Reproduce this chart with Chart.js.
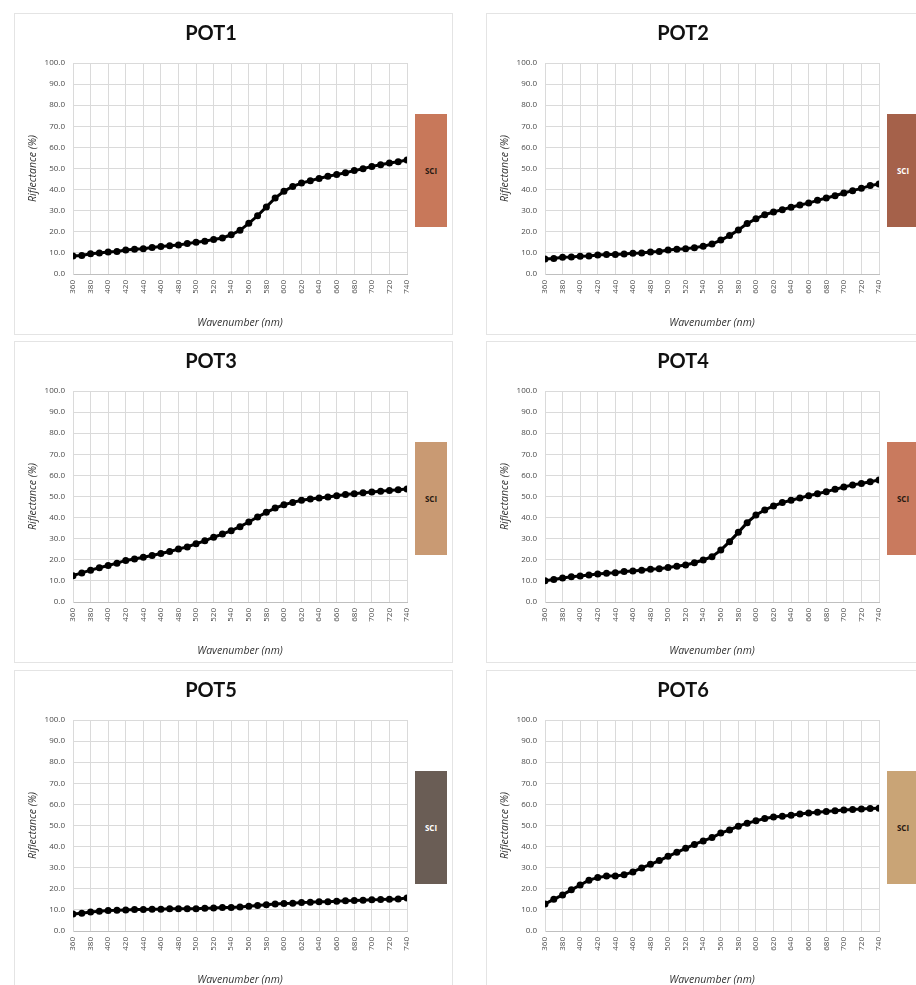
<!DOCTYPE html>
<html>
<head>
<meta charset="utf-8">
<script src="https://cdn.jsdelivr.net/npm/chart.js@4/dist/chart.umd.min.js"></script>
<style>
  html, body { margin: 0; padding: 0; background: #fff; }
  body { width: 916px; height: 985px; position: relative; overflow: hidden; }
  .panel { position: absolute; width: 439px; height: 322px; border: 1px solid #e4e4e4; box-sizing: border-box; background: #fff; }
  .panel canvas { position: absolute; left: 0; top: 0; }
  .swatch { position: absolute; width: 32px; height: 113px; display: flex; align-items: center; justify-content: center;
            font: bold 8px "Open Sans", "Liberation Sans", sans-serif; }
</style>
</head>
<body>
<script>
// Wavelengths sampled every 10 nm
const wavelengths = [360,370,380,390,400,410,420,430,440,450,460,470,480,490,500,510,520,530,540,550,
                     560,570,580,590,600,610,620,630,640,650,660,670,680,690,700,710,720,730,740];

// Reflectance (%) per sample
const pot1 = [8.5,8.8,9.6,10.0,10.4,10.7,11.4,11.7,12.0,12.6,13.0,13.4,13.7,14.4,15.0,15.5,16.4,17.1,18.6,20.7,
              24.0,27.6,31.8,36.0,39.2,41.5,43.1,44.2,45.3,46.3,47.1,48.0,49.0,49.9,51.0,51.8,52.6,53.2,54.0];
const pot2 = [7.1,7.4,7.9,8.1,8.4,8.5,9.0,9.2,9.3,9.5,9.8,10.0,10.4,10.7,11.4,11.7,12.0,12.5,13.1,14.2,
              16.1,18.2,20.9,23.9,26.2,28.1,29.4,30.5,31.6,32.7,33.6,34.9,36.0,37.1,38.4,39.5,40.6,41.9,42.7];
const pot3 = [12.5,13.8,15.1,16.2,17.3,18.4,19.7,20.4,21.2,22.0,23.0,23.9,25.1,26.1,27.6,29.0,30.7,32.2,33.8,35.7,
              37.9,40.3,42.5,44.5,46.1,47.2,48.2,48.8,49.3,49.8,50.4,50.9,51.3,51.8,52.1,52.5,52.9,53.2,53.6];
const pot4 = [10.1,10.7,11.4,12.0,12.3,12.8,13.3,13.6,13.9,14.4,14.7,15.0,15.5,15.8,16.4,16.9,17.5,18.6,19.9,21.5,
              24.6,28.6,33.0,37.6,41.2,43.6,45.5,47.1,48.2,49.3,50.4,51.3,52.3,53.4,54.5,55.5,56.2,57.0,57.8];
const pot5 = [8.1,8.4,9.0,9.4,9.7,9.8,10.0,10.2,10.2,10.3,10.3,10.5,10.5,10.5,10.6,10.8,10.9,11.1,11.1,11.4,
              11.7,12.1,12.4,12.8,13.0,13.1,13.5,13.6,13.9,13.9,14.1,14.3,14.4,14.6,14.8,14.9,15.1,15.2,15.6];
const pot6 = [12.8,15.0,17.1,19.5,21.8,24.1,25.3,26.1,26.1,26.6,28.0,29.9,31.6,33.4,35.4,37.3,39.2,41.0,42.7,44.3,
              46.4,47.9,49.7,51.1,52.2,53.3,54.0,54.4,54.9,55.4,55.9,56.3,56.6,57.0,57.3,57.6,57.8,58.1,58.2];

const titles = ["POT1","POT2","POT3","POT4","POT5","POT6"];
const seriesList = [pot1, pot2, pot3, pot4, pot5, pot6];
const swatchColors = ["#C8785A","#A5614A","#C99A73","#C97A5E","#6A5D55","#C9A476"];
const swatchText = ["#2a1a12","#ffffff","#2a1a12","#2a1a12","#ffffff","#2a1a12"];

const axisFont = '"Open Sans", "Liberation Sans", sans-serif';

// Panel grid: two columns, three rows
const panelLeft = [14, 486];
const panelTop = [13, 341, 670];

titles.forEach((title, i) => {
  const col = i % 2, row = Math.floor(i / 2);
  const px = panelLeft[col], py = panelTop[row];

  const panel = document.createElement('div');
  panel.className = 'panel';
  panel.style.left = px + 'px';
  panel.style.top = py + 'px';
  const canvas = document.createElement('canvas');
  canvas.width = 439; canvas.height = 322;
  canvas.style.width = '439px'; canvas.style.height = '322px';
  panel.appendChild(canvas);
  document.body.appendChild(panel);

  const sw = document.createElement('div');
  sw.className = 'swatch';
  sw.style.left = (px + 401) + 'px';
  sw.style.top = (py + 101) + 'px';
  sw.style.background = swatchColors[i];
  sw.style.color = swatchText[i];
  sw.textContent = 'SCI';
  document.body.appendChild(sw);

  const values = seriesList[i];
  const points = wavelengths.map((w, k) => ({ x: w, y: values[k] }));

  new Chart(canvas, {
    type: 'line',
    data: {
      datasets: [{
        data: points,
        borderColor: '#000',
        backgroundColor: '#000',
        borderWidth: 3,
        pointRadius: 3.5,
        pointBorderWidth: 0,
        pointBackgroundColor: '#000',
        tension: 0
      }]
    },
    options: {
      responsive: false,
      animation: false,
      events: [],
      layout: { padding: { left: 0, right: 47, top: 0, bottom: 0 } },
      plugins: {
        legend: { display: false },
        tooltip: { enabled: false },
        title: {
          display: true,
          text: title,
          color: '#111',
          font: { family: 'Lato, "Open Sans", sans-serif', size: 20, weight: 'bold' },
          padding: { top: 8, bottom: 17 }
        }
      },
      scales: {
        x: {
          type: 'linear',
          min: 360, max: 740,
          ticks: {
            stepSize: 20,
            autoSkip: false,
            minRotation: 90, maxRotation: 90,
            padding: 6,
            color: '#4a4a4a',
            font: { family: axisFont, size: 8 }
          },
          grid: { color: '#dadada', lineWidth: 1, drawTicks: false },
          border: { color: '#bfbfbf', width: 1 },
          title: {
            display: true,
            text: 'Wavenumber (nm)',
            color: '#333',
            font: { family: axisFont, size: 10.5, style: 'italic' },
            padding: { top: 0, bottom: 7 }
          },
          afterFit: s => { s.height = 62; }
        },
        y: {
          min: 0, max: 100,
          ticks: {
            stepSize: 10,
            padding: 8,
            color: '#4a4a4a',
            font: { family: axisFont, size: 8 },
            callback: v => v.toFixed(1)
          },
          grid: { color: '#dadada', lineWidth: 1, drawTicks: false },
          border: { color: '#dadada', width: 1 },
          title: {
            display: true,
            text: 'Riflectance (%)',
            color: '#333',
            font: { family: axisFont, size: 10.5, style: 'italic' },
            padding: { top: 12, bottom: 0 }
          },
          afterFit: s => { s.width = 58; }
        }
      }
    }
  });
});
</script>
</body>
</html>
